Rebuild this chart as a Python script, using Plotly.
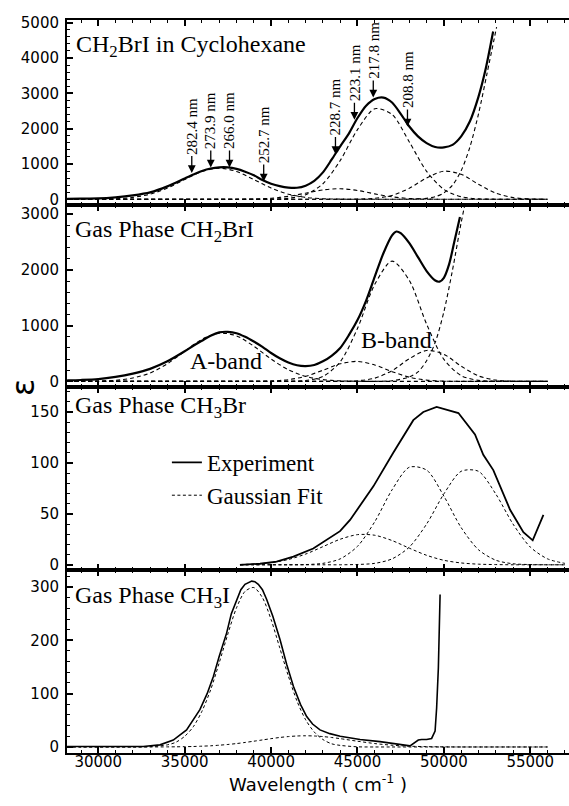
import plotly.graph_objects as go
from plotly.subplots import make_subplots

SERIF = "Liberation Serif"
SANS = "DejaVu Sans"

# ---------------- Panel 1 : CH2BrI in cyclohexane ----------------
p1_exp_wn = [28200, 29000, 30000, 31000, 32000, 33000, 34000, 35000, 35500, 36000, 36500, 37000,
             37500, 38000, 38500, 39000, 39500, 40000, 40500, 41000, 41500, 42000, 42500, 43000,
             43500, 44000, 44500, 45000, 45500, 46000, 46500, 47000, 47500, 48000, 48500, 49000,
             49500, 50000, 50500, 51000, 51500, 52000, 52400, 52850]
p1_exp_eps = [10, 15, 22, 55, 110, 195, 365, 590, 700, 800, 870, 905,
              905, 860, 780, 680, 545, 440, 370, 330, 325, 385, 520, 760,
              1120, 1500, 1860, 2300, 2650, 2840, 2880, 2740, 2420, 2060, 1780, 1590,
              1480, 1470, 1540, 1780, 2200, 2900, 3650, 4750]
p1_fit_wn = [28200, 29000, 30000, 31000, 32000, 33000, 34000, 35000, 36000, 37000, 38000, 39000,
             40000, 41000, 42000, 43000, 44000, 45000, 46000, 47000, 48000, 49000, 50000, 51000,
             52000, 53000, 54000, 55000, 56000]
p1_fit_a = [0, 1, 3, 15, 52, 143, 317, 559, 786, 880, 786, 559,
            317, 143, 52, 15, 3, 1, 0, 0, 0, 0, 0, 0, 0, 0, 0, 0, 0]
p1_fit_b = [0, 0, 0, 0, 0, 0, 0, 0, 0, 0, 1, 7,
            29, 82, 172, 265, 299, 249, 152, 68, 22, 5, 1, 0, 0, 0, 0, 0, 0]
p1_fit_c = [0, 0, 0, 0, 0, 0, 0, 0, 0, 0, 0, 0,
            4, 26, 127, 439, 1096, 1973, 2562, 2400, 1622, 790, 278, 71, 13, 2, 0, 0, 0]
p1_fit_d = [0, 0, 0, 0, 0, 0, 0, 0, 0, 0, 0, 0,
            0, 0, 0, 0, 0, 4, 26, 108, 311, 604, 794, 706, 425, 173, 48, 9, 1]
p1_fit_e_wn = [28200, 30000, 32000, 34000, 36000, 38000, 40000, 42000, 44000, 46000, 47000, 48000,
               49000, 49500, 50000, 50500, 51000, 51500, 52000, 52500, 53050]
p1_fit_e = [0, 0, 0, 0, 0, 0, 0, 0, 0, 0, 0, 3, 26, 72, 179, 400, 807, 1469, 2411, 3569, 4875]

arrow_nm = [282.4, 273.9, 266.0, 252.7, 228.7, 223.1, 217.8, 208.8]
arrow_eps = [740, 900, 900, 500, 1280, 2250, 2880, 2060]

# ---------------- Panel 2 : gas phase CH2BrI ----------------
p2_exp_wn = [28200, 29000, 30000, 31000, 32000, 33000, 34000, 35000, 35500, 36000, 36500, 37000,
             37500, 38000, 38500, 39000, 39500, 40000, 40500, 41000, 41500, 42000, 42500, 43000,
             43500, 44000, 44500, 45000, 45500, 46000, 46500, 47000, 47250, 47500, 48000, 48500,
             49000, 49500, 49750, 50000, 50300, 50600, 50930]
p2_exp_eps = [20, 25, 40, 80, 140, 225, 360, 540, 640, 730, 820, 880,
              890, 865, 800, 715, 620, 510, 415, 340, 290, 275, 295, 360,
              460, 600, 830, 1100, 1450, 1880, 2300, 2620, 2690, 2660, 2480, 2230,
              1980, 1810, 1790, 1860, 2100, 2500, 2950]
p2_fit_wn = [28200, 29000, 30000, 31000, 32000, 33000, 34000, 35000, 36000, 37000, 38000, 39000,
             40000, 41000, 42000, 43000, 44000, 45000, 46000, 47000, 48000, 49000, 50000, 51000,
             52000, 53000, 54000, 55000, 56000]
p2_fit_a = [0, 1, 5, 20, 60, 152, 317, 539, 755, 867, 817, 632,
            401, 209, 89, 31, 9, 2, 0, 0, 0, 0, 0, 0, 0, 0, 0, 0, 0]
p2_fit_b = [0, 0, 0, 0, 0, 0, 0, 0, 0, 0, 0, 1,
            7, 30, 91, 200, 315, 359, 295, 175, 75, 23, 5, 1, 0, 0, 0, 0, 0]
p2_fit_c = [0, 0, 0, 0, 0, 0, 0, 0, 0, 0, 0, 0,
            0, 2, 15, 88, 351, 951, 1742, 2159, 1811, 1028, 395, 103, 18, 2, 0, 0, 0]
p2_fit_d = [0, 0, 0, 0, 0, 0, 0, 0, 0, 0, 0, 0,
            0, 0, 0, 0, 1, 11, 58, 191, 407, 555, 486, 273, 98, 23, 3, 0, 0]
p2_fit_e_wn = [28200, 30000, 32000, 34000, 36000, 38000, 40000, 42000, 44000, 46000, 47000, 48000,
               48500, 49000, 49500, 50000, 50500, 51000, 51300]
p2_fit_e = [0, 0, 0, 0, 0, 0, 0, 0, 0, 1, 12, 80, 170, 370, 700, 1250, 2000, 2850, 3300]

# ---------------- Panel 3 : gas phase CH3Br ----------------
p3_exp_wn = [38200, 39360, 40320, 41290, 42440, 43990, 44570, 45920, 47070, 48230, 48810, 49580,
             50840, 51800, 52280, 52860, 53830, 54600, 55140, 55760]
p3_exp_eps = [0, 1, 3, 8, 16, 33, 44, 77, 110, 142, 150, 155,
              149, 128, 108, 93, 54, 32, 24, 49]
p3_fit_wn = [38200, 39000, 40000, 41000, 42000, 43000, 44000, 45000, 46000, 47000, 48000, 49000,
             50000, 51000, 52000, 53000, 54000, 55000, 56000, 57000]
p3_fit_a = [0.3, 0.7, 2.1, 5.2, 10.5, 17.8, 25.1, 29.6, 29.0, 23.8, 16.3, 9.3,
            4.4, 1.8, 0.6, 0.2, 0, 0, 0, 0]
p3_fit_b = [0, 0, 0, 0, 0.2, 1.4, 5.8, 18.1, 42.3, 73.6, 95.8, 93.0,
            67.4, 36.5, 14.8, 4.5, 1.0, 0.2, 0, 0]
p3_fit_c = [0, 0, 0, 0, 0, 0, 0, 0.3, 1.4, 5.8, 17.4, 40.0,
            69.6, 91.8, 91.8, 69.6, 40.0, 17.4, 5.8, 1.4]

# ---------------- Panel 4 : gas phase CH3I ----------------
p4_exp_wn = [28200, 30000, 32600, 33570, 34340, 35110, 35880, 36300, 36660, 37000, 37430, 37700,
             38010, 38250, 38490, 38700, 38880, 39060, 39260, 39500, 39740, 40100, 40520, 40900,
             41290, 41700, 42060, 42400, 42830, 43400, 44000, 45150, 46300, 48040, 48300, 48520,
             48710, 49000, 49290, 49490, 49580, 49680, 49780]
p4_exp_eps = [1, 1, 1, 4, 13, 32, 70, 100, 132, 170, 214, 250,
              277, 295, 305, 309, 311, 310, 305, 295, 277, 245, 201, 155,
              114, 80, 57, 43, 32, 25, 20, 14, 10, 2, 8, 13,
              14, 14, 16, 30, 73, 148, 286]
p4_fit_wn = [28200, 29000, 30000, 31000, 32000, 33000, 34000, 34500, 35000, 35500, 36000, 36500,
             37000, 37500, 38000, 38500, 39000, 39500, 40000, 40500, 41000, 41500, 42000, 42500,
             43000, 43500, 44000, 45000, 46000, 47000, 48000, 49000, 50000, 51000, 52000, 53000,
             54000, 55000, 56000]
p4_fit_a = [0, 0, 0, 0, 0, 0.6, 4, 9, 20, 38, 67, 107,
            158, 212, 261, 292, 299, 280, 239, 186, 133, 86, 51, 28,
            14, 6, 3, 0.3, 0, 0, 0, 0, 0, 0, 0, 0, 0, 0, 0]
p4_fit_b = [0, 0, 0, 0, 0, 0.05, 0.2, 0.3, 0.6, 0.9, 1.5, 2.2,
            3.3, 4.7, 6.4, 8.5, 10.8, 13.2, 15.6, 17.8, 19.5, 20.6, 21, 20.6,
            19.5, 17.8, 15.6, 10.8, 6.4, 3.3, 1.5, 0.6, 0.2, 0, 0, 0, 0, 0, 0]

x_ticks = [30000, 35000, 40000, 45000, 50000, 55000]
x_range = [28190, 57240]
y_ranges = [[-161, 5076], [-93, 3167], [-5.6, 175], [-11.3, 331]]
y_dticks = [1000, 1000, 50, 100]
y_minor = [200, 200, 10, 20]

fig = make_subplots(rows=4, cols=1, shared_xaxes=True, vertical_spacing=0)


def line(row, x, y, width, dash="solid", shape="spline", name=None, legend=False, group=None):
    fig.add_trace(go.Scatter(x=x, y=y, mode="lines", name=name, showlegend=legend,
                             legendgroup=group, hoverinfo="skip",
                             line=dict(color="black", width=width, dash=dash, shape=shape,
                                       smoothing=0.8)), row=row, col=1)


D12 = "4px,3px"
D34 = "3px,2.5px"

line(1, p1_exp_wn, p1_exp_eps, 2.2, group="exp")
for ys in (p1_fit_a, p1_fit_b, p1_fit_c, p1_fit_d):
    line(1, p1_fit_wn, ys, 1.1, D12, group="fit")
line(1, p1_fit_e_wn, p1_fit_e, 1.1, D12, group="fit")

line(2, p2_exp_wn, p2_exp_eps, 2.2, group="exp")
for ys in (p2_fit_a, p2_fit_b, p2_fit_c, p2_fit_d):
    line(2, p2_fit_wn, ys, 1.1, D12, group="fit")
line(2, p2_fit_e_wn, p2_fit_e, 1.1, D12, group="fit")

line(3, p3_exp_wn, p3_exp_eps, 1.8, shape="linear", name="Experiment", legend=True, group="exp")
line(3, p3_fit_wn, p3_fit_a, 1.0, D34, name="Gaussian Fit", legend=True, group="fit")
line(3, p3_fit_wn, p3_fit_b, 1.0, D34, group="fit")
line(3, p3_fit_wn, p3_fit_c, 1.0, D34, group="fit")

line(4, p4_exp_wn, p4_exp_eps, 1.6, shape="linear", group="exp")
line(4, p4_fit_wn, p4_fit_a, 1.0, D34, group="fit")
line(4, p4_fit_wn, p4_fit_b, 1.0, D34, group="fit")

domains = [[0.7477, 1.0], [0.4999, 0.7477], [0.2490, 0.4999], [0.0, 0.2490]]
for i in range(4):
    sfx = "" if i == 0 else str(i + 1)
    fig.layout["xaxis" + sfx].update(
        range=x_range, showline=True, linecolor="black", linewidth=2, mirror="ticks",
        ticks="inside", ticklen=6, tickwidth=1.5, tickcolor="black",
        tickvals=x_ticks, ticktext=[str(v) for v in x_ticks],
        minor=dict(dtick=1000, tick0=30000, ticks="inside", ticklen=3, tickwidth=1.2,
                   tickcolor="black"),
        showgrid=False, zeroline=False, showticklabels=(i == 3),
        ticklabelstandoff=-6,
        tickfont=dict(family=SANS, size=15, color="black"))
    fig.layout["yaxis" + sfx].update(
        domain=domains[i], range=y_ranges[i], dtick=y_dticks[i], tick0=0,
        showline=True, linecolor="black", linewidth=2, mirror=False,
        ticks="inside", ticklen=6, tickwidth=1.5, tickcolor="black",
        minor=dict(dtick=y_minor[i], tick0=0, ticks="inside", ticklen=3, tickwidth=1.2,
                   tickcolor="black"),
        ticklabelstandoff=3,
        showgrid=False, zeroline=False, tickfont=dict(family=SANS, size=15, color="black"))

fig.layout.xaxis4.title = dict(text="Wavelength ( cm<sup>-1</sup> )",
                               font=dict(family=SANS, size=18, color="black"), standoff=4)

annotations = []
titles = ["CH<sub>2</sub>BrI in Cyclohexane", "Gas Phase CH<sub>2</sub>BrI",
          "Gas Phase CH<sub>3</sub>Br", "Gas Phase CH<sub>3</sub>I"]
title_x = [0.014, 0.012, 0.012, 0.012]
title_y = [0.965, 0.712, 0.472, 0.213]
for t, tx, ty in zip(titles, title_x, title_y):
    annotations.append(dict(text=t, x=tx, y=ty, xref="paper", yref="paper", xanchor="left",
                            yanchor="middle", showarrow=False,
                            font=dict(family=SERIF, size=24, color="black")))

for nm, ep in zip(arrow_nm, arrow_eps):
    annotations.append(dict(text=f"{nm:.1f} nm", x=1e7 / nm, y=ep, xref="x", yref="y",
                            showarrow=True, arrowhead=2, arrowsize=1.2, arrowwidth=1.3,
                            arrowcolor="black", ax=0, ay=-47, textangle=-90, standoff=0,
                            font=dict(family=SERIF, size=15, color="black")))

annotations.append(dict(text="A-band", x=37378, y=364, xref="x2", yref="y2", showarrow=False,
                        font=dict(family=SERIF, size=24, color="black")))
annotations.append(dict(text="B-band", x=47268, y=741, xref="x2", yref="y2", showarrow=False,
                        font=dict(family=SERIF, size=24, color="black")))
annotations.append(dict(text="ε", x=-0.088, y=0.499, xref="paper", yref="paper",
                        xanchor="center", yanchor="middle",
                        showarrow=False, textangle=-90,
                        font=dict(family=SANS, size=32, color="black")))

fig.update_layout(
    width=569, height=806, margin=dict(l=67, r=0, t=20, b=53),
    plot_bgcolor="white", paper_bgcolor="white",
    font=dict(family=SANS, size=16, color="black"),
    showlegend=True,
    legend=dict(x=0.199, y=0.374, xanchor="left", yanchor="middle", bgcolor="rgba(0,0,0,0)",
                font=dict(family=SERIF, size=23, color="black"), tracegroupgap=0,
                itemclick=False, itemdoubleclick=False),
    annotations=annotations,
)

fig.write_html("out.html", config={"displayModeBar": False},
               post_script="document.body.style.margin='0';"
                           "document.body.style.overflow='hidden';")
